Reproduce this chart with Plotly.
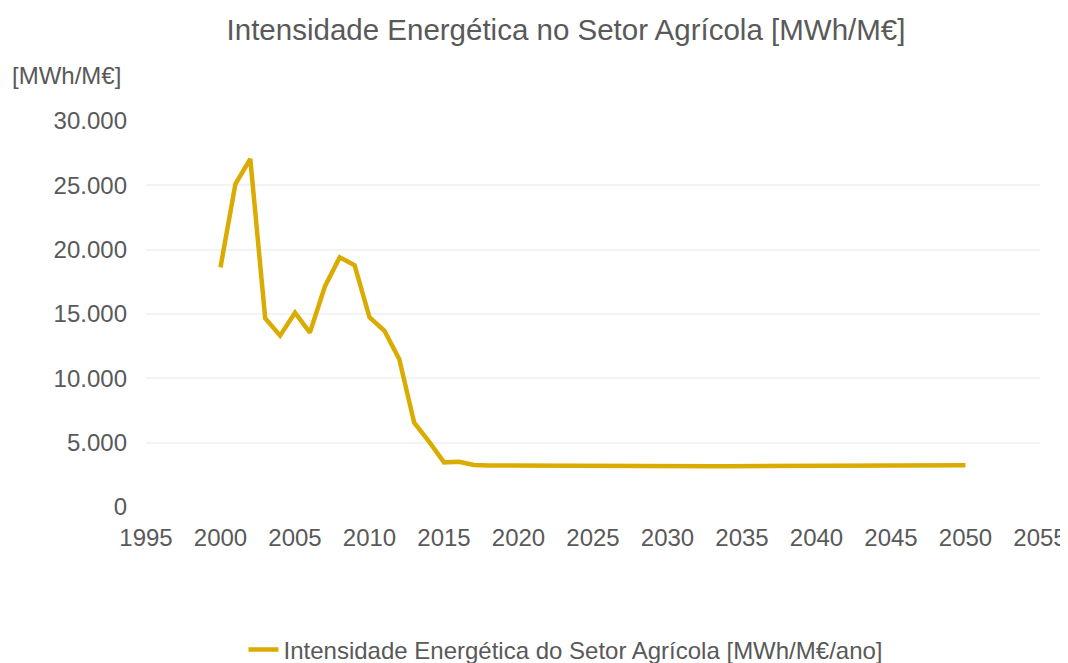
import plotly.graph_objects as go

years = list(range(2000, 2051))
intensity = [
    18630, 25100, 27050, 14670, 13320, 15100, 13550, 17120, 19400, 18780,
    14740, 13700, 11480, 6550, 5080, 3470, 3520, 3260, 3230, 3220,
    3210, 3210, 3205, 3200, 3200, 3195, 3190, 3185, 3180, 3170,
    3165, 3165, 3165, 3165, 3170, 3175, 3175, 3175, 3170, 3165,
    3160, 3170, 3180, 3190, 3195, 3200, 3210, 3220, 3230, 3240,
    3250,
]
series_name = "Intensidade Energética do Setor Agrícola [MWh/M€/ano]"
title_text = "Intensidade Energética no Setor Agrícola [MWh/M€]"
y_unit = "[MWh/M€]"

font_family = "Liberation Sans, Arial, sans-serif"
grey = "#595959"

# page body has an 8px margin, so the figure is offset to compensate
W, H = 1068, 655
OFF = 8

fig = go.Figure()
fig.add_trace(go.Scatter(
    x=years, y=intensity, mode="lines", name=series_name,
    line=dict(color="#DAAB00", width=4.5, shape="linear"),
))

plot_l, plot_r, plot_t, plot_b = 146 - OFF, 1040 - OFF, 121 - OFF, 507 - OFF

fig.update_layout(
    width=W, height=H,
    paper_bgcolor="white", plot_bgcolor="white",
    margin=dict(l=plot_l, r=W - plot_r, t=plot_t, b=H - plot_b, autoexpand=False),
    separators=",.",
    font=dict(family=font_family, color=grey, size=24),
    title=dict(text=title_text, x=(566 - OFF) / W, xanchor="center", xref="container",
               y=1 - (30 - OFF) / H, yanchor="middle", yref="container", automargin=False,
               font=dict(size=29.5, color=grey, family=font_family)),
    showlegend=True,
    legend=dict(orientation="h", x=(566 - OFF) / W, xanchor="center", xref="container",
                y=1 - (650 - OFF) / H, yanchor="middle", yref="container",
                font=dict(size=24, color=grey), itemwidth=30),
    xaxis=dict(range=[1995, 2055], dtick=5, tick0=1995, showgrid=False, zeroline=False,
               showline=False, ticks="", automargin=False, ticklabelstandoff=14,
               ticklabeloverflow="allow",
               tickfont=dict(size=24, color=grey)),
    yaxis=dict(range=[0, 30000], dtick=5000, tickformat=",d", showgrid=True,
               gridcolor="#F3F3F3", gridwidth=2, zeroline=False, showline=False,
               ticks="", automargin=False, ticklabelstandoff=18,
               tickfont=dict(size=24, color=grey)),
    annotations=[dict(text=y_unit, xref="paper", yref="paper",
                      x=(10 - 146) / (plot_r - plot_l), y=(507 - 75) / (plot_b - plot_t),
                      xanchor="left", yanchor="middle", showarrow=False,
                      font=dict(size=24, color=grey))],
)

fig.write_html("out.html")
